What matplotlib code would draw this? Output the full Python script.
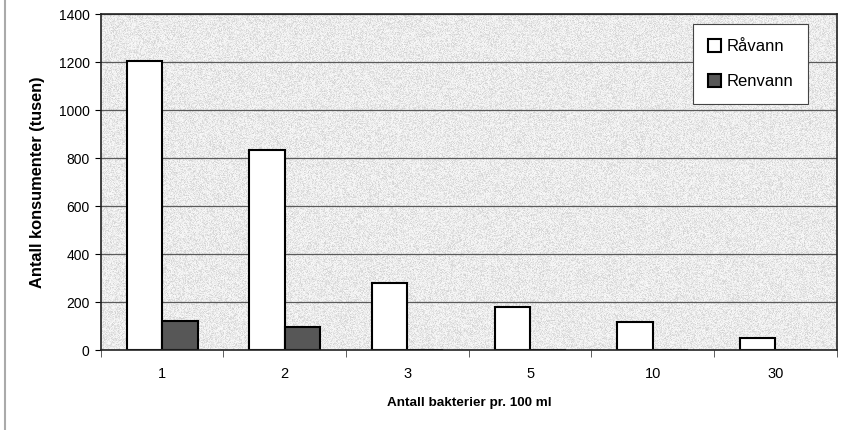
import matplotlib
matplotlib.use("Agg")
import matplotlib.pyplot as plt
from matplotlib.lines import Line2D
import numpy as np

plt.rcParams['font.family'] = ['Liberation Sans', 'DejaVu Sans']

categories = ['1', '2', '3', '5', '10', '30']
ravann = [1205, 835, 278, 180, 118, 49]
renvann = [120, 95, 2, 2, 1, 0]

fig = plt.figure(figsize=(8.47, 4.3), dpi=100)
ax = fig.add_axes([0.119, 0.186, 0.869, 0.781])
ax.set_facecolor('#ebebeb')

x = np.arange(len(categories))
w = 0.29
ax.bar(x - w / 2, ravann, w, color='white', edgecolor='black', linewidth=1.5,
       label='Råvann', zorder=3)
ax.bar(x + w / 2, renvann, w, color='#575757', edgecolor='black', linewidth=1.5,
       label='Renvann', zorder=3)

ax.set_xlim(-0.5, len(categories) - 0.5)
ax.set_ylim(0, 1400)

# speckled pattern fill behind the plot
rng = np.random.default_rng(3)
speck = rng.random((340, 740)) ** 0.6
ax.imshow(speck, cmap='gray', vmin=-5.0, vmax=1.15, aspect='auto',
          extent=(-0.5, len(categories) - 0.5, 0, 1400), zorder=0,
          interpolation='nearest')

ax.set_yticks(range(0, 1401, 200))
ax.yaxis.grid(True, color='#5a5a5a', linewidth=0.9)
for gl in ax.get_ygridlines():
    gl.set_zorder(1)

ax.set_xticks(x)
ax.set_xticklabels(categories)
ax.set_xticks(np.arange(len(categories) + 1) - 0.5, minor=True)
ax.tick_params(axis='x', which='major', length=0, pad=12, labelsize=10.5)
ax.tick_params(axis='x', which='minor', length=5, direction='out', color='#444444')
ax.tick_params(axis='y', length=4, direction='out', labelsize=10, pad=4)

for s in ax.spines.values():
    s.set_linewidth(1.2)
    s.set_color('#222222')
    s.set_zorder(4)

ax.set_xlabel('Antall bakterier pr. 100 ml', fontsize=9.7, fontweight='bold', labelpad=12)
ax.set_ylabel('Antall konsumenter (tusen)', fontsize=11.8, fontweight='bold', labelpad=10)

leg = ax.legend(loc='upper right', bbox_to_anchor=(0.972, 0.996), fontsize=12,
                frameon=True, fancybox=False, edgecolor='#444444', handlelength=0.8,
                handleheight=0.8, handletextpad=0.3, labelspacing=1.2,
                borderpad=0.9, framealpha=1)
leg.get_frame().set_linewidth(0.8)
leg.set_zorder(5)

# thin gray border line along the left edge
fig.add_artist(Line2D([0.006, 0.006], [0, 1], color='#aaaaaa', linewidth=1.5,
                      transform=fig.transFigure))

fig.savefig('out.png', dpi=100)
